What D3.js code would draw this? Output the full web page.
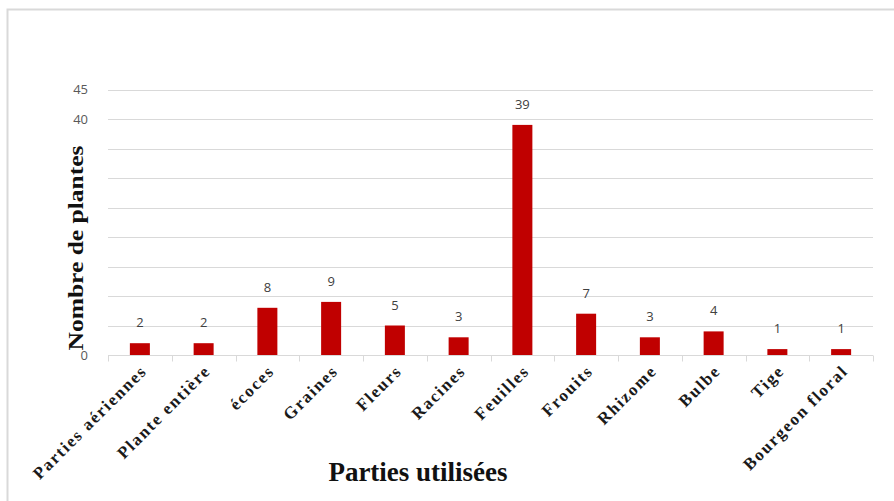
<!DOCTYPE html>
<html>
<head>
<meta charset="utf-8">
<script src="https://cdn.jsdelivr.net/npm/d3@7"></script>
<style>
  html, body { margin: 0; padding: 0; background: #fff; }
  svg { display: block; }
</style>
</head>
<body>
<svg id="chart" width="894" height="501"></svg>
<script>
// Parts of the plant used and number of plants for each
const categories = ["Parties aériennes", "Plante entière", "écoces", "Graines", "Fleurs", "Racines",
                    "Feuilles", "Frouits", "Rhizome", "Bulbe", "Tige", "Bourgeon floral"];
const values = [2, 2, 8, 9, 5, 3, 39, 7, 3, 4, 1, 1];
const yTicks = [0, 5, 10, 15, 20, 25, 30, 35, 40, 45];
const yTickLabels = ["0", "", "", "", "", "", "", "", "40", "45"];

const svg = d3.select("#chart");

// outer frame (top and left edges)
svg.append("path")
  .attr("d", "M7.5,501 L7.5,9.5 L894,9.5")
  .attr("fill", "none")
  .attr("stroke", "#d9d9d9")
  .attr("stroke-width", 2);

const x = d3.scaleBand().domain(categories).range([108, 873]).paddingInner(0).paddingOuter(0);
const y = d3.scaleLinear().domain([0, 45]).range([355, 89.5]);

// horizontal gridlines
svg.append("g")
  .selectAll("line")
  .data(yTicks.filter(t => t > 0))
  .join("line")
  .attr("x1", 108).attr("x2", 873)
  .attr("y1", d => Math.round(y(d)) + 0.5).attr("y2", d => Math.round(y(d)) + 0.5)
  .attr("stroke", "#d9d9d9").attr("stroke-width", 1);

// y tick labels
svg.append("g")
  .selectAll("text")
  .data(yTicks)
  .join("text")
  .attr("x", 88)
  .attr("y", d => y(d))
  .attr("dy", "0.35em")
  .attr("text-anchor", "end")
  .attr("font-family", "'Open Sans', 'DejaVu Sans', sans-serif")
  .attr("font-size", 13)
  .attr("fill", "#595959")
  .text((d, i) => yTickLabels[i]);

// bars
svg.append("g")
  .selectAll("rect")
  .data(values)
  .join("rect")
  .attr("x", (d, i) => x(categories[i]) + x.bandwidth() / 2 - 10)
  .attr("width", 20)
  .attr("y", d => y(d))
  .attr("height", d => y(0) - y(d))
  .attr("fill", "#c00000");

// value labels
svg.append("g")
  .selectAll("text")
  .data(values)
  .join("text")
  .attr("x", (d, i) => x(categories[i]) + x.bandwidth() / 2)
  .attr("y", d => y(d) - 16)
  .attr("text-anchor", "middle")
  .attr("font-family", "'Open Sans', 'DejaVu Sans', sans-serif")
  .attr("font-size", 13)
  .attr("fill", "#404040")
  .text(d => d);

// x axis with tick marks between categories
const axis = svg.append("g").attr("transform", "translate(0,355.5)");
axis.append("line").attr("x1", 108).attr("x2", 873).attr("stroke", "#d9d9d9").attr("stroke-width", 1);
axis.selectAll("line.tick")
  .data(d3.range(categories.length + 1))
  .join("line")
  .attr("class", "tick")
  .attr("x1", i => Math.round(108 + i * x.bandwidth()) + 0.5)
  .attr("x2", i => Math.round(108 + i * x.bandwidth()) + 0.5)
  .attr("y1", 0).attr("y2", 6)
  .attr("stroke", "#d9d9d9");

// rotated category labels
svg.append("g")
  .selectAll("text")
  .data(categories)
  .join("text")
  .attr("transform", d => `translate(${x(d) + x.bandwidth() / 2 + 8},${372}) rotate(-45)`)
  .attr("text-anchor", "end")
  .attr("font-family", "'Liberation Serif', 'Times New Roman', serif")
  .attr("font-weight", "bold")
  .attr("font-size", 17)
  .attr("letter-spacing", 1.7)
  .attr("fill", "#1a1a1a")
  .text(d => d);

// axis titles
svg.append("text")
  .attr("x", 418).attr("y", 481)
  .attr("text-anchor", "middle")
  .attr("font-family", "'Liberation Serif', 'Times New Roman', serif")
  .attr("font-weight", "bold")
  .attr("font-size", 27)
  .attr("fill", "#111")
  .text("Parties utilisées");

svg.append("text")
  .attr("transform", "translate(83,248) rotate(-90)")
  .attr("text-anchor", "middle")
  .attr("font-family", "'Liberation Serif', 'Times New Roman', serif")
  .attr("font-weight", "bold")
  .attr("font-size", 22)
  .attr("fill", "#111")
  .attr("textLength", 205)
  .attr("lengthAdjust", "spacingAndGlyphs")
  .text("Nombre de plantes");
</script>
</body>
</html>
